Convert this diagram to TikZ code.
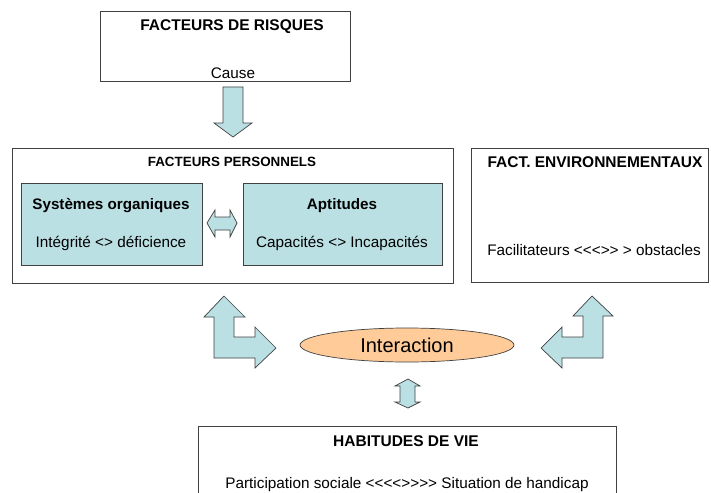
\documentclass[tikz,border=0pt]{standalone}
\usepackage{fontspec}
\setmainfont{Liberation Sans}
\usetikzlibrary{calc}
\definecolor{bleuclair}{RGB}{187,224,228}
\definecolor{peche}{RGB}{255,204,153}
\definecolor{trait}{RGB}{64,64,64}
\def\pinf{<\kern0pt}
\def\psup{>\kern0pt}
\tikzset{
	boite/.style={draw=trait, line width=1pt},
	fleche/.style={draw=trait, line width=0.7pt, fill=bleuclair, line join=miter},
	titre/.style={font=\bfseries\fontsize{15.5}{17}\selectfont},
	texte/.style={font=\fontsize{15.3}{17}\selectfont}
}

\begin{document}
\begin{tikzpicture}[x=1pt, y=-1pt]
			%%%%% START %%%%%
			\useasboundingbox (0, 0) rectangle (711, 492);
			
			\draw[boite] (100, 12) rectangle (350, 82);
			\node[titre] (risques) at (232, 27) {FACTEURS DE RISQUES};
			\node[texte] (cause) at (233, 73) {Cause};
			
			\draw[fleche] (223, 87) -- (243, 87) -- (243, 123) -- (252, 123) -- (233, 137) -- (214, 123) -- (223, 123) -- cycle;
			
			\draw[boite] (12, 148) rectangle (453, 283);
			\node[titre, font=\bfseries\fontsize{13.4}{15}\selectfont] (personnels) at (232, 162) {FACTEURS PERSONNELS};
			
			\draw[boite, fill=bleuclair] (21, 183) rectangle (202, 265);
			\node[titre, font=\bfseries\fontsize{15.2}{17}\selectfont] (systemes) at (111, 206) {Systèmes organiques};
			\node[texte] (integrite) at (111, 243) {Intégrité \pinf\psup{} déficience};
			
			\draw[boite, fill=bleuclair] (243, 183) rectangle (442, 265);
			\node[titre, font=\bfseries\fontsize{15.2}{17}\selectfont] (aptitudes) at (342, 206) {Aptitudes};
			\node[texte] (capacites) at (342, 243) {Capacités \pinf\psup{} Incapacités};
			
			\draw[fleche] (207, 223) -- (215, 210) -- (215, 217) -- (230, 217) -- (230, 210) -- (237, 223) -- (230, 237) -- (230, 230) -- (215, 230) -- (215, 237) -- cycle;
			
			\draw[boite] (471, 148) rectangle (708, 282);
			\node[titre] (environnement) at (595, 162) {FACT. ENVIRONNEMENTAUX};
			\node[texte] (facilitateurs) at (594, 250) {Facilitateurs \pinf\pinf\pinf\psup\psup{} \psup{} obstacles};
			
			\draw[fleche] (224, 296) -- (245, 317) -- (234, 317) -- (234, 337) -- (255, 337) -- (255, 327) -- (276, 348) -- (255, 368) -- (255, 358) -- (214, 358) -- (214, 317) -- (204, 317) -- cycle;
			\draw[fleche] (592, 296) -- (613, 316) -- (603, 316) -- (603, 358) -- (562, 358) -- (562, 368) -- (541, 348) -- (562, 327) -- (562, 337) -- (583, 337) -- (583, 316) -- (573, 316) -- cycle;
			
			\draw[draw=trait, line width=0.7pt, fill=peche] (407, 345) ellipse (107 and 17);
			\node[font=\fontsize{20}{22}\selectfont] (interaction) at (407, 345) {Interaction};
			
			\draw[fleche] (408, 379) -- (420, 386) -- (415, 386) -- (415, 402) -- (420, 402) -- (408, 408) -- (395, 402) -- (400, 402) -- (400, 386) -- (395, 386) -- cycle;
			
			\draw[boite] (198, 426) rectangle (616, 510);
			\node[titre] (habitudes) at (406, 441) {HABITUDES DE VIE};
			\node[texte] (participation) at (407, 485) {Participation sociale \pinf\pinf\pinf\pinf\psup\psup\psup\psup{} Situation de handicap};
			
			%%%%% END %%%%%
\end{tikzpicture}
\end{document}
